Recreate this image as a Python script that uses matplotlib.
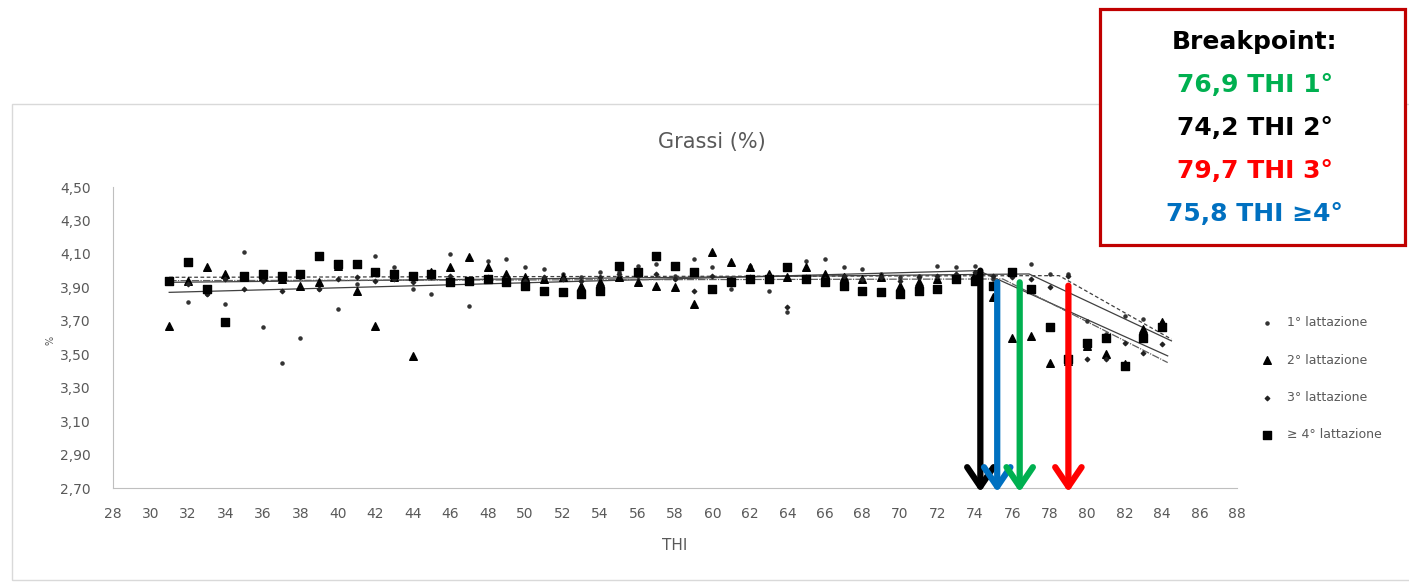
import matplotlib.pyplot as plt
from matplotlib.patches import Rectangle

# THI values (x) shared by all four lactation groups
thi = list(range(31, 85))

# fat %
lact1 = [3.95, 3.81, 3.86, 3.80, 4.11, 3.66, 3.45, 3.60, 3.89, 3.77, 3.92, 4.09, 4.02, 3.89,
         3.86, 4.10, 3.79, 4.06, 4.07, 4.02, 4.01, 3.98, 3.96, 3.99, 3.99, 4.03, 4.04, 3.97,
         4.07, 4.02, 3.89, 4.03, 3.88, 3.75, 4.06, 4.07, 4.02, 4.01, 3.98, 3.96, 3.97, 4.03,
         4.02, 4.03, 3.95, 4.00, 4.04, 3.98, 3.98, 3.70, 3.62, 3.73, 3.71, 3.69]
lact2 = [3.67, 3.94, 4.02, 3.98, 3.96, 3.97, 3.95, 3.91, 3.93, 4.03, 3.88, 3.67, 3.96, 3.49,
         3.99, 4.02, 4.08, 4.02, 3.98, 3.96, 3.95, 3.96, 3.91, 3.93, 3.96, 3.93, 3.91, 3.90,
         3.80, 4.11, 4.05, 4.02, 3.98, 3.96, 4.02, 3.98, 3.96, 3.95, 3.96, 3.91, 3.93, 3.95,
         3.97, 3.98, 3.84, 3.60, 3.61, 3.45, 3.46, 3.55, 3.50, 3.44, 3.65, 3.69]
lact3 = [3.93, 3.92, 3.86, 3.95, 3.89, 3.94, 3.88, 3.96, 3.89, 3.95, 3.96, 3.94, 3.95, 3.93,
         3.96, 3.97, 3.95, 3.96, 3.95, 3.94, 3.96, 3.95, 3.94, 3.96, 3.98, 3.97, 3.98, 3.95,
         3.88, 3.97, 3.95, 3.96, 3.97, 3.78, 3.96, 3.95, 3.97, 3.95, 3.96, 3.94, 3.96, 3.97,
         3.98, 3.99, 3.97, 3.96, 3.95, 3.90, 3.97, 3.47, 3.47, 3.57, 3.51, 3.56]
lact4 = [3.94, 4.05, 3.89, 3.69, 3.97, 3.98, 3.97, 3.98, 4.09, 4.04, 4.04, 3.99, 3.98, 3.97,
         3.98, 3.93, 3.94, 3.95, 3.93, 3.91, 3.88, 3.87, 3.86, 3.88, 4.03, 3.99, 4.09, 4.03,
         3.99, 3.89, 3.93, 3.95, 3.95, 4.02, 3.95, 3.93, 3.91, 3.88, 3.87, 3.86, 3.88, 3.89,
         3.95, 3.94, 3.91, 3.99, 3.89, 3.66, 3.47, 3.57, 3.60, 3.43, 3.60, 3.66]

# segmented trend lines (start, breakpoint, end)
trend1_x, trend1_y = [31, 76.9, 84.5], [3.93, 3.98, 3.58]
trend2_x, trend2_y = [31, 74.2, 84.3], [3.87, 4.00, 3.49]
trend3_x, trend3_y = [31, 78.5, 84.5], [3.96, 3.97, 3.59]
trend4_x, trend4_y = [31, 75.5, 84.3], [3.94, 3.95, 3.45]

# arrows as drawn on the picture
arrow_thi = [74.3, 75.2, 76.4, 79.0]
arrow_top = [4.00, 3.93, 3.93, 3.91]
arrow_col = ['black', '#0070c0', '#00b050', '#ff0000']

box_lines = ['Breakpoint:', '76,9 THI 1°', '74,2 THI 2°', '79,7 THI 3°', '75,8 THI ≥4°']
box_cols = ['black', '#00b050', 'black', '#ff0000', '#0070c0']

y_ticks = [2.70, 2.90, 3.10, 3.30, 3.50, 3.70, 3.90, 4.10, 4.30, 4.50]
x_ticks = list(range(28, 90, 2))

grey_txt = '#595959'

fig = plt.figure(figsize=(14.09, 5.83), dpi=100)
fig.patches.append(Rectangle((12 / 1409, 0.006), 1.2, 1 - 104 / 583 - 0.006,
                             transform=fig.transFigure, fill=False,
                             edgecolor='#d9d9d9', lw=1))

ax = fig.add_axes([113 / 1409, 1 - 488 / 583, (1237 - 113) / 1409, (488 - 187) / 583])

ax.scatter(thi, lact1, marker='o', s=5, color='#333333', label='1° lattazione', zorder=3)
ax.scatter(thi, lact2, marker='^', s=30, color='black', label='2° lattazione', zorder=3)
ax.scatter(thi, lact3, marker='D', s=5, color='#222222', label='3° lattazione', zorder=3)
ax.scatter(thi, lact4, marker='s', s=40, color='black', label='≥ 4° lattazione', zorder=3)

ax.plot(trend1_x, trend1_y, color='#404040', lw=0.9)
ax.plot(trend2_x, trend2_y, color='#404040', lw=0.9)
ax.plot(trend3_x, trend3_y, color='#404040', lw=0.9, ls=(0, (3, 2)))
ax.plot(trend4_x, trend4_y, color='#606060', lw=0.9, ls=(0, (6, 1, 1, 1)))

for x, top, c in zip(arrow_thi, arrow_top, arrow_col):
    ax.annotate('', xy=(x, 2.675), xytext=(x, top), annotation_clip=False,
                arrowprops=dict(arrowstyle='->,head_length=1.4,head_width=0.95',
                                color=c, lw=4.5, shrinkA=0, shrinkB=0),
                zorder=5)

ax.set_xlim(28, 88)
ax.set_ylim(2.70, 4.50)
ax.set_xticks(x_ticks)
ax.set_yticks(y_ticks)
ax.set_yticklabels([f'{v:.2f}'.replace('.', ',') for v in y_ticks])
ax.tick_params(length=0, colors=grey_txt, labelsize=10)
ax.tick_params(axis='x', pad=14)
ax.tick_params(axis='y', pad=16)
for side in ['top', 'right']:
    ax.spines[side].set_visible(False)
for side in ['left', 'bottom']:
    ax.spines[side].set_color('#bfbfbf')

ax.set_xlabel('THI', color=grey_txt, fontsize=11, labelpad=12)
fig.text(50 / 1409, 1 - 340 / 583, '%', rotation=90, ha='center', va='center',
         color=grey_txt, fontsize=7)
fig.text(712 / 1409, 1 - 142 / 583, 'Grassi (%)', ha='center', va='center',
         color=grey_txt, fontsize=15)

leg = fig.legend(loc='upper left', bbox_to_anchor=(1243 / 1409, 1 - 305 / 583),
                 frameon=False, labelspacing=1.95, handletextpad=0.6,
                 prop={'size': 9})
for t in leg.get_texts():
    t.set_color(grey_txt)

fig.patches.append(Rectangle((1100 / 1409, 1 - 245 / 583), 305 / 1409, 236 / 583,
                             transform=fig.transFigure, facecolor='white',
                             edgecolor='#c00000', lw=2.3, zorder=10))
for i, (s, c) in enumerate(zip(box_lines, box_cols)):
    fig.text(1255 / 1409, 1 - (42 + i * 43) / 583, s, ha='center', va='center',
             color=c, fontsize=18, fontweight='bold', family='DejaVu Sans',
             zorder=11)

fig.savefig('out.png', dpi=100)
